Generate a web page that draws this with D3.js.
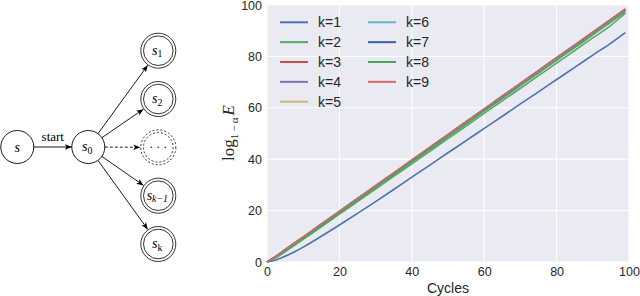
<!DOCTYPE html>
<html>
<head>
<meta charset="utf-8">
<script src="https://cdn.jsdelivr.net/npm/d3@7"></script>
<style>
  html, body { margin: 0; padding: 0; background: #fff; }
  svg { display: block; }
</style>
</head>
<body>
<div id="chart"></div>
<script>
// Chart data
const cycles = [0, 2.5, 5, 7.5, 10, 15, 20, 25, 30, 35, 40, 45, 50, 55, 60, 65, 70, 75, 80, 85, 90, 95, 99];
const seriesNames = ['k=1', 'k=2', 'k=3', 'k=4', 'k=5', 'k=6', 'k=7', 'k=8', 'k=9'];
const k1 = [0, 0.8, 2.2, 3.9, 5.8, 10.0, 14.4, 18.9, 23.5, 28.2, 33.0, 37.7, 42.5, 47.2, 52.0, 56.7, 61.5, 66.2, 71.0, 75.7, 80.5, 85.2, 89.3];
const k2 = [0, 1.7, 4.0, 6.4, 8.8, 13.7, 18.6, 23.5, 28.4, 33.3, 38.2, 43.1, 48.0, 52.9, 57.8, 62.7, 67.6, 72.5, 77.4, 82.3, 87.2, 92.1, 96.8];
const k3 = [0, 2.1, 4.6, 7.0, 9.5, 14.5, 19.5, 24.4, 29.4, 34.4, 39.3, 44.3, 49.3, 54.2, 59.2, 64.2, 69.1, 74.1, 79.1, 84.0, 89.0, 94.0, 98.0];
const k4 = [0, 2.2, 4.7, 7.1, 9.6, 14.6, 19.6, 24.5, 29.5, 34.5, 39.4, 44.4, 49.4, 54.4, 59.3, 64.3, 69.3, 74.2, 79.2, 84.2, 89.1, 94.1, 98.1];
const k5 = [0, 2.2, 4.7, 7.2, 9.7, 14.6, 19.6, 24.6, 29.6, 34.5, 39.5, 44.5, 49.5, 54.4, 59.4, 64.4, 69.4, 74.3, 79.3, 84.3, 89.2, 94.2, 98.2];
const k6 = [0, 2.3, 4.8, 7.2, 9.7, 14.7, 19.7, 24.6, 29.6, 34.6, 39.6, 44.6, 49.5, 54.5, 59.5, 64.5, 69.4, 74.4, 79.4, 84.4, 89.3, 94.3, 98.3];
const k7 = [0, 2.3, 4.8, 7.3, 9.7, 14.7, 19.7, 24.7, 29.7, 34.6, 39.6, 44.6, 49.6, 54.6, 59.5, 64.5, 69.5, 74.5, 79.5, 84.4, 89.4, 94.4, 98.4];
const k8 = [0, 1.9, 4.3, 6.7, 9.2, 14.1, 19.1, 24.0, 29.0, 33.9, 38.9, 43.8, 48.8, 53.7, 58.7, 63.6, 68.6, 73.5, 78.5, 83.4, 88.4, 93.3, 97.4];
const k9 = [0, 2.3, 4.8, 7.3, 9.8, 14.8, 19.7, 24.7, 29.7, 34.7, 39.7, 44.7, 49.6, 54.6, 59.6, 64.6, 69.6, 74.6, 79.5, 84.5, 89.5, 94.5, 98.5];
const seriesValues = [k1, k2, k3, k4, k5, k6, k7, k8, k9];
const seriesColors = ['#4c72b0', '#55a868', '#c44e52', '#8172b2', '#ccb974', '#64b5cd', '#3f5f9f', '#4ca45a', '#d26a6a'];
const xTicks = [0, 20, 40, 60, 80, 100];
const yTicks = [0, 20, 40, 60, 80, 100];

// Diagram data
const targetStates = [
	{ base: 's', sub: '1', dashed: false },
	{ base: 's', sub: '2', dashed: false },
	{ base: '\u00b7 \u00b7 \u00b7', sub: '', dashed: true },
	{ base: 's', sub: 'k\u22121', dashed: false },
	{ base: 's', sub: 'k', dashed: false }
];

const W = 640, H = 296;
const svg = d3.select('#chart').append('svg').attr('width', W).attr('height', H);

const defs = svg.append('defs');
defs.append('marker')
	.attr('id', 'arrow')
	.attr('viewBox', '0 0 10 10')
	.attr('refX', 10).attr('refY', 5)
	.attr('markerWidth', 7).attr('markerHeight', 7)
	.attr('markerUnits', 'userSpaceOnUse')
	.attr('orient', 'auto')
	.append('path')
	.attr('d', 'M0,1 L10,5 L0,9 L2.5,5 Z')
	.attr('fill', '#000');

// ---- State diagram ----
const serif = '"Liberation Serif", "DejaVu Serif", serif';
const diag = svg.append('g');
const sNode = { x: 17.3, y: 147 };
const s0Node = { x: 88.3, y: 147 };
const rSmall = 16.5, rOuter = 17.5, rInner = 14.8;
const colY = d3.scalePoint().domain(d3.range(targetStates.length)).range([50.7, 244]);
const colX = 158.3;

const stateLabel = (g, x, y, base, sub, size) => {
	const t = g.append('text')
		.attr('x', x).attr('y', y)
		.attr('text-anchor', 'middle')
		.attr('dominant-baseline', 'central')
		.attr('font-family', serif)
		.attr('font-style', 'italic')
		.attr('font-size', size);
	t.append('tspan').text(base);
	if (sub) {
		t.append('tspan')
			.attr('font-size', size * 0.7)
			.attr('font-style', sub.length > 1 ? 'italic' : 'normal')
			.attr('dy', 3.5)
			.text(sub);
	}
};

[sNode, s0Node].forEach((n) => {
	diag.append('circle')
		.attr('cx', n.x).attr('cy', n.y).attr('r', rSmall)
		.attr('fill', '#fff').attr('stroke', '#000').attr('stroke-width', 0.9);
});
stateLabel(diag, sNode.x, sNode.y, 's', '', 14);
stateLabel(diag, s0Node.x - 1, s0Node.y - 1, 's', '0', 14);

// start arrow
diag.append('line')
	.attr('x1', sNode.x + rSmall).attr('y1', sNode.y)
	.attr('x2', s0Node.x - rSmall).attr('y2', s0Node.y)
	.attr('stroke', '#000').attr('stroke-width', 0.9)
	.attr('marker-end', 'url(#arrow)');
diag.append('text')
	.attr('x', (sNode.x + s0Node.x) / 2).attr('y', 141)
	.attr('text-anchor', 'middle')
	.attr('font-family', serif)
	.attr('font-size', 13)
	.text('start');

targetStates.forEach((st, i) => {
	const cx = colX, cy = colY(i);
	const dx = cx - s0Node.x, dy = cy - s0Node.y;
	const len = Math.hypot(dx, dy);
	const ux = dx / len, uy = dy / len;
	diag.append('line')
		.attr('x1', s0Node.x + ux * rSmall).attr('y1', s0Node.y + uy * rSmall)
		.attr('x2', cx - ux * (rOuter + 0.5)).attr('y2', cy - uy * (rOuter + 0.5))
		.attr('stroke', '#000').attr('stroke-width', 0.9)
		.attr('stroke-dasharray', st.dashed ? '3 2' : null)
		.attr('marker-end', 'url(#arrow)');
	[rOuter, rInner].forEach((r) => {
		diag.append('circle')
			.attr('cx', cx).attr('cy', cy).attr('r', r)
			.attr('fill', 'none').attr('stroke', '#000').attr('stroke-width', 0.8)
			.attr('stroke-dasharray', st.dashed ? '2 2' : null);
	});
	if (st.dashed) {
		diag.append('text')
			.attr('x', cx).attr('y', cy)
			.attr('text-anchor', 'middle')
			.attr('dominant-baseline', 'central')
			.attr('font-family', serif)
			.attr('font-size', 12)
			.text(st.base);
	} else {
		stateLabel(diag, cx - 1, cy - 1, st.base, st.sub, 14);
	}
});

// ---- Line chart ----
const sans = '"Liberation Sans", Arial, sans-serif';
const plot = { left: 267, right: 629, top: 5, bottom: 262 };
const x = d3.scaleLinear().domain([0, 100]).range([plot.left, plot.right]);
const y = d3.scaleLinear().domain([0, 100]).range([plot.bottom, plot.top]);

const chart = svg.append('g');
chart.append('rect')
	.attr('x', plot.left).attr('y', plot.top)
	.attr('width', plot.right - plot.left).attr('height', plot.bottom - plot.top)
	.attr('fill', '#eaeaf2');

// grid
chart.append('g')
	.selectAll('line')
	.data(xTicks)
	.join('line')
	.attr('x1', (d) => x(d)).attr('x2', (d) => x(d))
	.attr('y1', plot.top).attr('y2', plot.bottom)
	.attr('stroke', '#fff').attr('stroke-width', 1);
chart.append('g')
	.selectAll('line')
	.data(yTicks)
	.join('line')
	.attr('y1', (d) => y(d)).attr('y2', (d) => y(d))
	.attr('x1', plot.left).attr('x2', plot.right)
	.attr('stroke', '#fff').attr('stroke-width', 1);

// axes (labels only, seaborn darkgrid style)
const xAxis = chart.append('g')
	.attr('transform', `translate(0,${plot.bottom})`)
	.call(d3.axisBottom(x).tickValues(xTicks).tickSize(0).tickPadding(5));
const yAxis = chart.append('g')
	.attr('transform', `translate(${plot.left},0)`)
	.call(d3.axisLeft(y).tickValues(yTicks).tickSize(0).tickPadding(5));
[xAxis, yAxis].forEach((a) => {
	a.select('.domain').remove();
	a.selectAll('text')
		.attr('font-family', sans)
		.attr('font-size', 12.5)
		.attr('fill', '#262626');
});

chart.append('text')
	.attr('x', (plot.left + plot.right) / 2).attr('y', 293)
	.attr('text-anchor', 'middle')
	.attr('font-family', sans)
	.attr('font-size', 14)
	.attr('fill', '#262626')
	.text('Cycles');

// y label: log_{1-α} E
const yLab = chart.append('text')
	.attr('transform', `translate(234,133) rotate(-90)`)
	.attr('text-anchor', 'middle')
	.attr('font-family', serif)
	.attr('font-size', 17)
	.attr('fill', '#262626');
yLab.append('tspan').text('log');
yLab.append('tspan').attr('font-size', 11).attr('dy', 4).text('1\u2009\u2212\u2009\u03b1');
yLab.append('tspan').attr('dy', -4).attr('dx', 2).attr('font-style', 'italic').text('E');

// lines
const line = d3.line()
	.x((d, i) => x(cycles[i]))
	.y((d) => y(d))
	.curve(d3.curveMonotoneX);
chart.append('g')
	.selectAll('path')
	.data(seriesValues)
	.join('path')
	.attr('d', line)
	.attr('fill', 'none')
	.attr('stroke', (d, i) => seriesColors[i])
	.attr('stroke-width', 1.6);

// legend
const legend = chart.append('g');
const colStarts = [280, 368];
const rowY = d3.scalePoint().domain(d3.range(5)).range([22.3, 101.7]);
seriesNames.forEach((name, i) => {
	const col = Math.floor(i / 5), row = i % 5;
	const lx = colStarts[col], ly = rowY(row);
	legend.append('line')
		.attr('x1', lx).attr('x2', lx + 28)
		.attr('y1', ly).attr('y2', ly)
		.attr('stroke', seriesColors[i]).attr('stroke-width', 2);
	legend.append('text')
		.attr('x', lx + 38).attr('y', ly)
		.attr('dominant-baseline', 'central')
		.attr('font-family', sans)
		.attr('font-size', 14)
		.attr('fill', '#262626')
		.text(name);
});
</script>
</body>
</html>
